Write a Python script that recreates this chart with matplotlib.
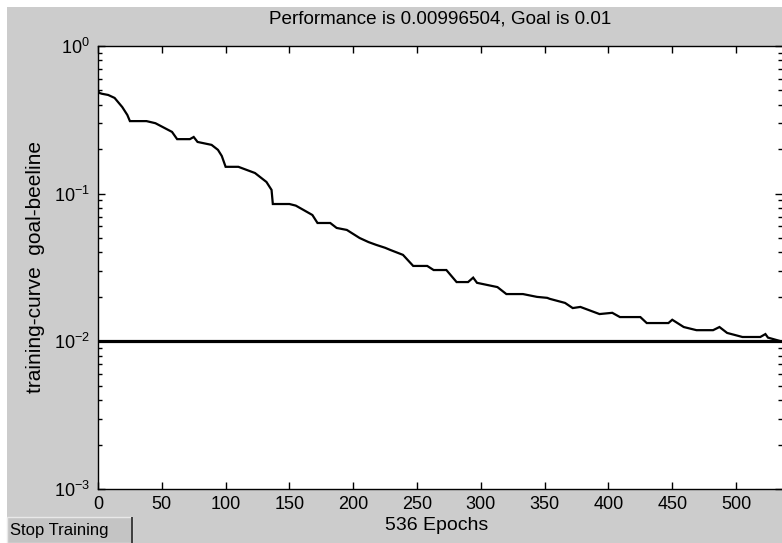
import numpy as np
import matplotlib.pyplot as plt
from matplotlib.patches import Rectangle
from matplotlib.ticker import LogLocator, LogFormatterMathtext, MultipleLocator, NullFormatter

# ------------------------------
# datos leidos de la curva de entrenamiento
# ------------------------------
epocas = [0, 0, 1, 3, 8, 13, 19, 23, 25, 38, 45, 58, 62, 72, 75, 78, 89, 94, 97,
          100, 110, 123, 132, 136, 137, 150, 155, 161, 168, 172, 182, 187, 195,
          205, 212, 218, 225, 229, 239, 247, 258, 263, 273, 281, 290, 294, 297,
          313, 320, 333, 344, 352, 354, 366, 372, 378, 393, 403, 409, 425, 430,
          447, 450, 459, 469, 482, 487, 493, 505, 519, 523, 525, 536]
rendimiento = [0.589, 0.50, 0.481, 0.475, 0.466, 0.445, 0.386, 0.341, 0.310, 0.310,
               0.300, 0.262, 0.234, 0.234, 0.242, 0.224, 0.214, 0.198, 0.180,
               0.152, 0.152, 0.138, 0.120, 0.106, 0.0851, 0.0851, 0.0830, 0.0776,
               0.0717, 0.0633, 0.0633, 0.0586, 0.0568, 0.0501, 0.0470, 0.0450,
               0.0430, 0.0416, 0.0385, 0.0324, 0.0324, 0.0304, 0.0304, 0.0252,
               0.0252, 0.0270, 0.0249, 0.0233, 0.0209, 0.0209, 0.0200, 0.0197,
               0.0194, 0.0182, 0.0168, 0.0171, 0.0153, 0.0156, 0.0146, 0.0146,
               0.0133, 0.0133, 0.0140, 0.0125, 0.0119, 0.0119, 0.0125, 0.0114,
               0.0107, 0.0107, 0.0112, 0.0106, 0.00996504]
objetivo = 0.01
n_epocas = 536

gris = '#cccccc'
plt.rcParams['font.family'] = ['Liberation Sans', 'DejaVu Sans']

fig = plt.figure(figsize=(7.82, 5.43), dpi=100, facecolor='white')
# fondo gris de la ventana (margen blanco arriba e izquierda)
fig.patches.append(Rectangle((7 / 782, 0), 1, 1 - 7 / 543, transform=fig.transFigure,
                             facecolor=gris, edgecolor='none', zorder=-10))

ax = fig.add_axes([98 / 782, (543 - 489) / 543, (782 - 98) / 782, (489 - 46) / 543])
ax.set_facecolor('white')

ax.plot(epocas, rendimiento, color='black', lw=1.6, solid_joinstyle='miter')
ax.axhline(objetivo, color='black', lw=2.3)

ax.set_yscale('log')
ax.set_ylim(1e-3, 1e0)
ax.set_xlim(0, n_epocas)
ax.xaxis.set_major_locator(MultipleLocator(50))
ax.yaxis.set_major_locator(LogLocator(base=10))
ax.yaxis.set_minor_locator(LogLocator(base=10, subs=np.arange(2, 10)))
ax.yaxis.set_major_formatter(LogFormatterMathtext())
ax.yaxis.set_minor_formatter(NullFormatter())

ax.tick_params(which='both', direction='in', top=True, right=True, colors='black',
               labelsize=13, width=1)
ax.tick_params(which='major', length=5)
ax.tick_params(axis='x', which='major', pad=5)
ax.tick_params(axis='y', which='major', pad=6)
ax.tick_params(which='minor', length=3)
for s in ax.spines.values():
    s.set_linewidth(1)
ax.spines['right'].set_visible(False)

fig.text(440 / 782, 1 - 19 / 543, 'Performance is 0.00996504, Goal is 0.01',
         fontsize=13.6, ha='center', va='center')
fig.text(437 / 782, 1 - 525 / 543, '536 Epochs', fontsize=14, ha='center', va='center')
fig.text(36 / 782, 1 - 267 / 543, 'training-curve  goal-beeline', fontsize=15,
         rotation=90, ha='center', va='center')

# boton "Stop Training"
fig.patches.append(Rectangle((7 / 782, 0), 125 / 782, 26 / 543, transform=fig.transFigure,
                             facecolor='#c4c4c4', edgecolor='#e8e8e8', lw=1))
fig.patches.append(Rectangle((131 / 782, 0), 2 / 782, 26 / 543, transform=fig.transFigure,
                             facecolor='#404040', edgecolor='none'))
fig.text(10 / 782, 13 / 543, 'Stop Training', fontsize=12, va='center', ha='left')

fig.savefig('out.png', dpi=100, facecolor=fig.get_facecolor())
